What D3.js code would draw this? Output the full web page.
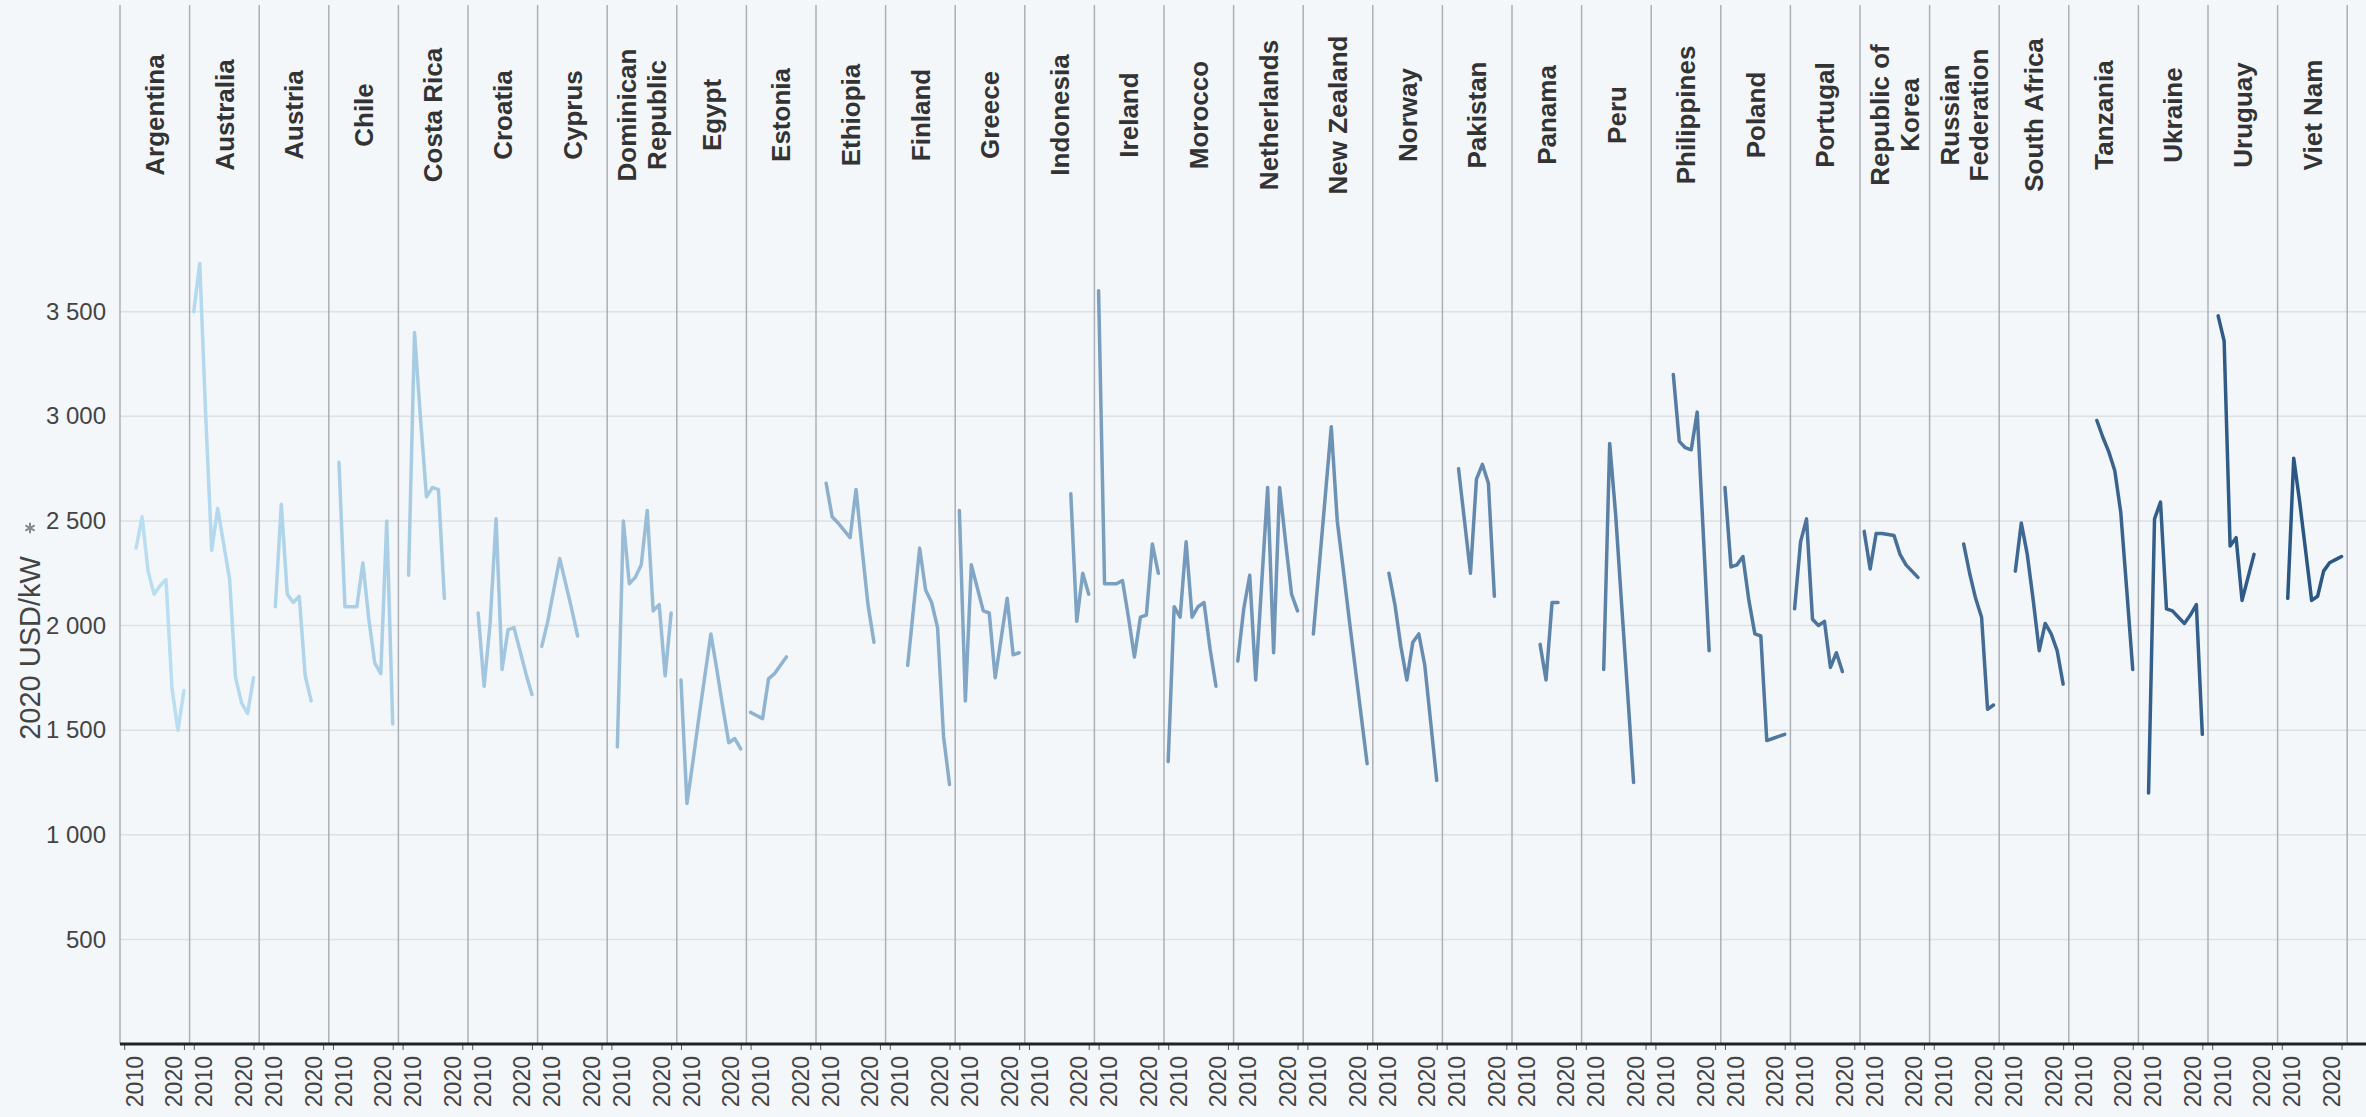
<!DOCTYPE html>
<html>
<head>
<meta charset="utf-8">
<script src="https://cdn.jsdelivr.net/npm/d3@7"></script>
<style>
  html, body { margin: 0; padding: 0; background: #f3f7fa; }
  #chart { width: 2366px; height: 1117px; }
  text { font-family: "Liberation Sans", Arial, sans-serif; }
</style>
</head>
<body>
<div id="chart"></div>
<script>
// Onshore wind total installed cost by country (2020 USD/kW)
const countries = [
  'Argentina', 'Australia', 'Austria', 'Chile', 'Costa Rica', 'Croatia', 'Cyprus',
  'Dominican Republic', 'Egypt', 'Estonia', 'Ethiopia', 'Finland', 'Greece', 'Indonesia',
  'Ireland', 'Morocco', 'Netherlands', 'New Zealand', 'Norway', 'Pakistan', 'Panama',
  'Peru', 'Philippines', 'Poland', 'Portugal', 'Republic of Korea', 'Russian Federation',
  'South Africa', 'Tanzania', 'Ukraine', 'Uruguay', 'Viet Nam'
];

// first year of each country's series
const startYears = [
  2012, 2010, 2012, 2011, 2011, 2011, 2010,
  2011, 2010, 2010, 2011, 2013, 2010, 2017,
  2010, 2010, 2010, 2011, 2012, 2012, 2014,
  2013, 2013, 2010, 2010, 2010, 2015,
  2012, 2014, 2011, 2011, 2011
];

// yearly values, same order as countries
const costs = [
  [2370, 2520, 2260, 2150, 2190, 2220, 1700, 1500, 1690],
  [3500, 3730, 3000, 2360, 2560, 2390, 2220, 1750, 1630, 1580, 1750],
  [2090, 2580, 2150, 2110, 2140, 1760, 1640],
  [2780, 2090, 2090, 2090, 2300, 2030, 1820, 1770, 2500, 1530],
  [2240, 3400, 2990, 2615, 2660, 2650, 2130],
  [2060, 1710, 2010, 2510, 1790, 1980, 1990, 1880, 1770, 1670],
  [1900, 2020, 2170, 2320, 2200, 2080, 1950],
  [1420, 2500, 2200, 2230, 2290, 2550, 2070, 2100, 1760, 2060],
  [1740, 1150, 1350, 1560, 1760, 1960, 1790, 1610, 1440, 1460, 1410],
  [1585, 1570, 1555, 1745, 1770, 1810, 1850],
  [2680, 2520, 2490, 2455, 2420, 2650, 2370, 2100, 1920],
  [1810, 2090, 2370, 2170, 2110, 1990, 1470, 1240],
  [2550, 1640, 2290, 2180, 2070, 2060, 1750, 1940, 2130, 1860, 1870],
  [2630, 2020, 2250, 2150],
  [3600, 2200, 2200, 2200, 2215, 2040, 1850, 2040, 2050, 2390, 2250],
  [1350, 2090, 2040, 2400, 2040, 2090, 2110, 1890, 1710],
  [1830, 2080, 2240, 1740, 2200, 2660, 1870, 2660, 2400, 2150, 2070],
  [1960, 2290, 2620, 2950, 2500, 2270, 2030, 1800, 1570, 1340],
  [2250, 2100, 1900, 1740, 1920, 1960, 1810, 1535, 1260],
  [2750, 2500, 2250, 2700, 2770, 2680, 2140],
  [1910, 1740, 2110, 2110],
  [1790, 2870, 2530, 2100, 1680, 1250],
  [3200, 2880, 2850, 2840, 3020, 2450, 1880],
  [2660, 2280, 2290, 2330, 2120, 1960, 1950, 1450, 1460, 1470, 1480],
  [2080, 2400, 2510, 2030, 2000, 2020, 1800, 1870, 1780],
  [2450, 2270, 2440, 2440, 2435, 2430, 2340, 2290, 2260, 2230],
  [2390, 2250, 2130, 2040, 1600, 1620],
  [2260, 2490, 2340, 2120, 1880, 2010, 1960, 1880, 1720],
  [2980, 2900, 2830, 2740, 2540, 2170, 1790],
  [1200, 2510, 2590, 2080, 2070, 2040, 2010, 2050, 2100, 1480],
  [3480, 3360, 2380, 2420, 2120, 2230, 2340],
  [2130, 2800, 2590, 2355, 2120, 2140, 2260, 2300, 2315, 2330]
];

const xTicks = [2010, 2020];
const yTicks = [500, 1000, 1500, 2000, 2500, 3000, 3500];

const width = 2366;
const height = 1117;
const plotLeft = 120;
const panelW = 69.6;
const axisY = 1044;
const plotTop = 228;
const plotRight = plotLeft + panelW * countries.length;

const svg = d3.select('#chart')
  .append('svg')
  .attr('width', width)
  .attr('height', height);

svg.append('rect')
  .attr('width', width)
  .attr('height', height)
  .attr('fill', '#f3f7fa');

const y = d3.scaleLinear().domain([0, 3900]).range([axisY, plotTop]);
const x = d3.scaleLinear().domain([2009.3, 2020.95]).range([0, panelW]);
const panel = d3.scaleBand().domain(countries).range([plotLeft, plotRight]);
const color = d3.scaleSequential(d3.interpolateLab('#b9ddf1', '#2a5783'))
  .domain([0, countries.length - 1]);

// horizontal gridlines
svg.append('g')
  .selectAll('line')
  .data(yTicks)
  .join('line')
  .attr('x1', plotLeft)
  .attr('x2', width)
  .attr('y1', d => y(d))
  .attr('y2', d => y(d))
  .attr('stroke', '#dde1e4')
  .attr('stroke-width', 1.5);

// panel separators
svg.append('g')
  .selectAll('line')
  .data(d3.range(countries.length + 1))
  .join('line')
  .attr('x1', i => plotLeft + i * panel.bandwidth())
  .attr('x2', i => plotLeft + i * panel.bandwidth())
  .attr('y1', 5)
  .attr('y2', axisY)
  .attr('stroke', '#aab0b5')
  .attr('stroke-width', 1.5);

// y axis
const fmt = d3.formatLocale({ decimal: '.', thousands: ' ', grouping: [3], currency: ['', ''] }).format(',');
const yAxis = svg.append('g')
  .attr('transform', `translate(${plotLeft},0)`)
  .call(d3.axisLeft(y).tickValues(yTicks).tickFormat(fmt).tickSize(0).tickPadding(14));
yAxis.select('.domain').remove();
yAxis.selectAll('text')
  .style('font-size', '24px')
  .attr('fill', '#444');

// y axis title + little sort icon
svg.append('text')
  .attr('transform', 'translate(30,648) rotate(-90)')
  .attr('text-anchor', 'middle')
  .attr('dy', '0.35em')
  .style('font-size', '29px')
  .attr('fill', '#444')
  .text('2020 USD/kW');

svg.append('path')
  .attr('transform', 'translate(30,528)')
  .attr('d', d3.symbol().type(d3.symbolAsterisk || d3.symbolCross).size(80))
  .attr('fill', 'none')
  .attr('stroke', '#888')
  .attr('stroke-width', 2);

// country headers
const headers = svg.append('g')
  .selectAll('text')
  .data(countries)
  .join('text')
  .attr('transform', d => `translate(${panel(d) + panelW / 2},115) rotate(-90)`)
  .attr('text-anchor', 'middle')
  .style('font-size', '26px')
  .style('font-weight', 'bold')
  .attr('fill', '#333');

headers.each(function(d) {
  const cut = d.lastIndexOf(' ');
  const lines = d.length > 12 && cut > 0 ? [d.slice(0, cut), d.slice(cut + 1)] : [d];
  d3.select(this).selectAll('tspan')
    .data(lines)
    .join('tspan')
    .attr('x', 0)
    .attr('y', (t, k) => (k - (lines.length - 1) / 2) * 30)
    .attr('dy', '0.35em')
    .text(t => t);
});

// lines
const line = d3.line()
  .x(d => x(d.year))
  .y(d => y(d.value));

countries.forEach((c, i) => {
  const pts = costs[i].map((v, j) => ({ year: startYears[i] + j, value: v }));
  svg.append('path')
    .datum(pts)
    .attr('transform', `translate(${panel(c)},0)`)
    .attr('d', line)
    .attr('fill', 'none')
    .attr('stroke', color(i))
    .attr('stroke-width', 3.5)
    .attr('stroke-linejoin', 'round')
    .attr('stroke-linecap', 'round');
});

// bottom axis per panel
countries.forEach(c => {
  const g = svg.append('g')
    .attr('transform', `translate(${panel(c)},${axisY})`)
    .call(d3.axisBottom(x).tickValues(xTicks).tickFormat(d3.format('d')).tickSize(6));
  g.select('.domain').remove();
  g.selectAll('.tick line').attr('stroke', '#555');
  g.selectAll('text')
    .attr('transform', 'rotate(-90)')
    .attr('text-anchor', 'end')
    .attr('x', -12)
    .attr('y', d => (d === 2010 ? 10 : -10))
    .attr('dy', '0.35em')
    .style('font-size', '23px')
    .attr('fill', '#444');
});

svg.append('line')
  .attr('x1', plotLeft)
  .attr('x2', width)
  .attr('y1', axisY)
  .attr('y2', axisY)
  .attr('stroke', '#222')
  .attr('stroke-width', 3);
</script>
</body>
</html>
